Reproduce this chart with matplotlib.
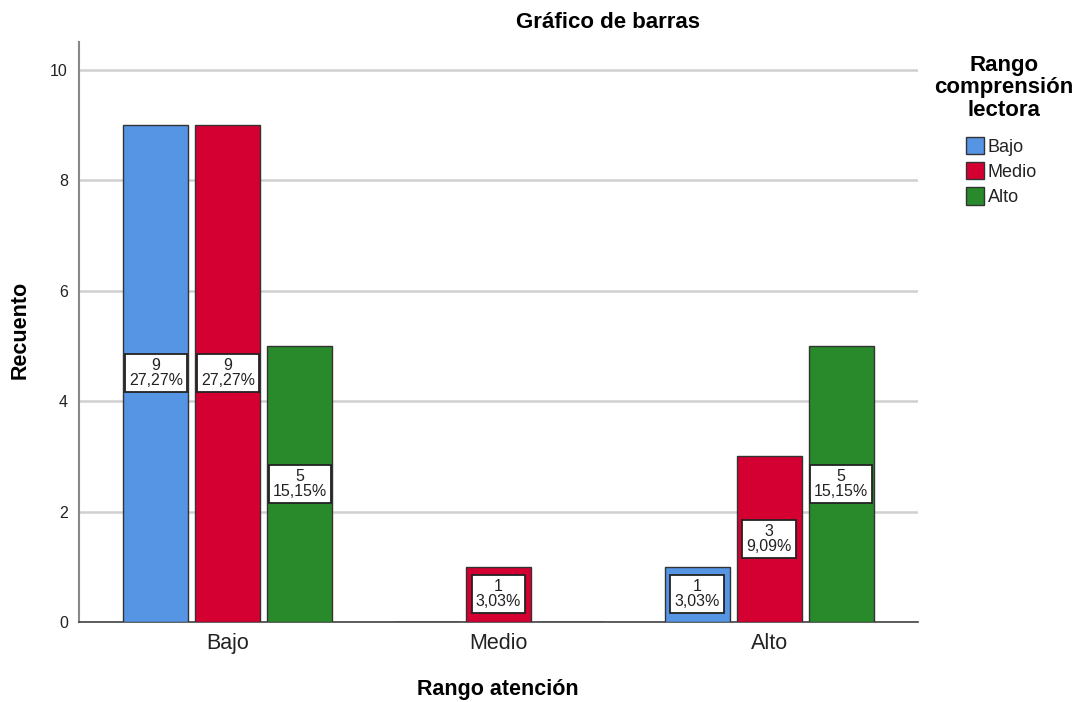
import matplotlib
matplotlib.use("Agg")
import matplotlib.pyplot as plt
import numpy as np
from matplotlib.patches import Patch

plt.rcParams["font.family"] = ["Liberation Sans", "DejaVu Sans"]

# Data
categories = ["Bajo", "Medio", "Alto"]
series_names = ["Bajo", "Medio", "Alto"]
bajo_counts = [9, 0, 1]
medio_counts = [9, 1, 3]
alto_counts = [5, 0, 5]
total = 33

colors = ["#5694E4", "#D50032", "#288A2A"]

fig = plt.figure(figsize=(10.81, 7.02), dpi=100)
ax = fig.add_axes([0.0731, 0.114, 0.7761, 0.826])

x = np.arange(len(categories))
width = 0.24
step = 0.266

for i, (vals, col) in enumerate(zip([bajo_counts, medio_counts, alto_counts], colors)):
    pos = x + (i - 1) * step
    ax.bar(pos, vals, width=width, color=col, edgecolor="#333333", linewidth=1.0, zorder=3)
    for p, v in zip(pos, vals):
        if v == 0:
            continue
        pct = f"{v / total * 100:.2f}%".replace(".", ",")
        ax.text(p, v / 2, f"{v}\n{pct}", ha="center", va="center", fontsize=11.5,
                linespacing=1.0, zorder=4, color="#222222",
                bbox=dict(boxstyle="square,pad=0.25", facecolor="white",
                          edgecolor="#222222", linewidth=1.3))

ax.set_xlim(-0.55, 2.55)
ax.set_ylim(0, 10.5)
ax.set_yticks([0, 2, 4, 6, 8, 10])
ax.set_xticks(x)
ax.set_xticklabels(categories, fontsize=15.5, color="#222222")
ax.tick_params(axis="y", labelsize=11.5, length=0, pad=8, colors="#222222")
ax.tick_params(axis="x", length=0, pad=8)

ax.yaxis.grid(True, color="#D0D0D0", linewidth=1.8, zorder=0)
ax.set_axisbelow(True)
for s in ["top", "right"]:
    ax.spines[s].set_visible(False)
ax.spines["left"].set_color("#888888")
ax.spines["left"].set_linewidth(1.5)
ax.spines["bottom"].set_color("#444444")
ax.spines["bottom"].set_linewidth(1.2)

fig.text(20 / 1081, 1 - 330 / 702, "Recuento", rotation=90, ha="center", va="center",
         fontsize=15.5, fontweight="bold")
fig.text(498 / 1081, 1 - 690 / 702, "Rango atención", ha="center", va="center",
         fontsize=15.5, fontweight="bold")

fig.text(608 / 1081, 1 - 22 / 702, "Gráfico de barras", ha="center", va="center",
         fontsize=16, fontweight="bold")

fig.text(1004 / 1081, 1 - 88 / 702, "Rango\ncomprensión\nlectora", ha="center",
         va="center", fontsize=16, fontweight="bold", linespacing=1.1)

handles = [Patch(facecolor=c, edgecolor="#333333", linewidth=1.0) for c in colors]
fig.legend(handles, series_names, loc="upper left",
           bbox_to_anchor=(957 / 1081, 1 - 128 / 702), frameon=False,
           fontsize=13, handlelength=1.0, handleheight=1.1, handletextpad=0.2,
           labelspacing=0.35, borderpad=0, labelcolor="#222222")

fig.savefig("out.png", dpi=100)
